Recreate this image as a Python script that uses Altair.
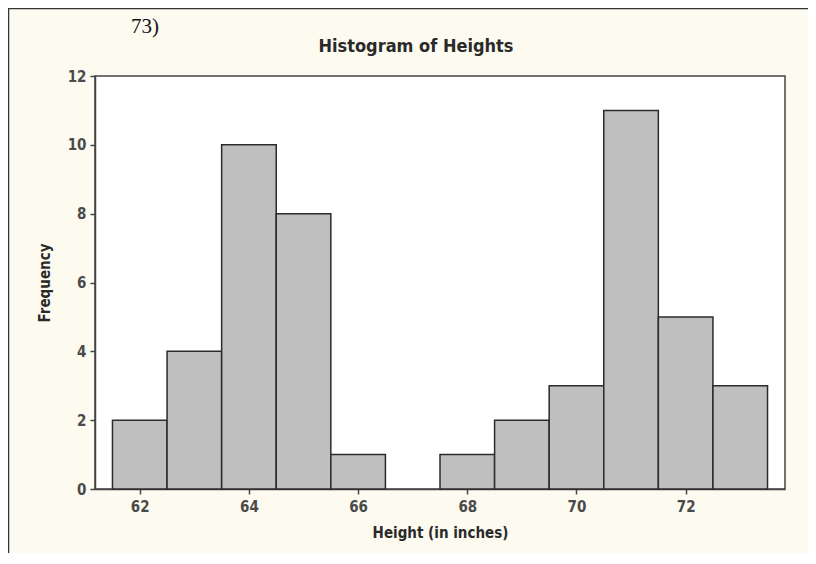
import altair as alt
import pandas as pd

centers = [62, 63, 64, 65, 66, 67, 68, 69, 70, 71, 72, 73]
counts = [2, 4, 10, 8, 1, 0, 1, 2, 3, 11, 5, 3]
x_ticks = [62, 64, 66, 68, 70, 72]
y_ticks = [0, 2, 4, 6, 8, 10, 12]
bin_width = 1.0
title_text = "Histogram of Heights"
corner_text = "73)"

df = pd.DataFrame({"center": centers, "count": counts})

W, H = 690, 413
PAD_L, PAD_T, PAD_R, PAD_B = 87, 68, 23, 64

xscale = alt.Scale(domain=[61.18, 73.82], nice=False, zero=False)
yscale = alt.Scale(domain=[0, 12], nice=False)

bars = alt.Chart(df).transform_filter(
    alt.datum["count"] > 0
).transform_calculate(
    x0=f"datum.center - {bin_width/2}",
    x1=f"datum.center + {bin_width/2}",
).mark_rect(fill="#BFBFBF", stroke="#2b2b2b", strokeWidth=1.5).encode(
    x=alt.X("x0:Q", scale=xscale, title="Height (in inches)",
            axis=alt.Axis(values=x_ticks, format="d", titleY=36, labelPadding=5)),
    x2="x1:Q",
    y=alt.Y("count:Q", scale=yscale, title="Frequency",
            axis=alt.Axis(values=y_ticks, format="d", titleX=-43, labelPadding=4)),
)

one = pd.DataFrame({"a": [0]})
frame_left = alt.Chart(one).mark_rule(color="#333", strokeWidth=1.5).encode(
    x=alt.value(-PAD_L + 0.5), y=alt.value(-PAD_T), y2=alt.value(H + PAD_B)
)
frame_top = alt.Chart(one).mark_rule(color="#333", strokeWidth=1.5).encode(
    x=alt.value(-PAD_L), x2=alt.value(W + PAD_R), y=alt.value(-PAD_T + 0.5)
)
label73 = alt.Chart(pd.DataFrame({"t": [corner_text]})).mark_text(
    font="Liberation Serif", fontSize=21, color="#111", align="center", baseline="middle"
).encode(text="t:N", x=alt.value(50), y=alt.value(-49))
title = alt.Chart(pd.DataFrame({"t": [title_text]})).mark_text(
    font="DejaVu Sans Condensed", fontSize=18, fontWeight="bold", color="#2a2a2a",
    align="center", baseline="middle"
).encode(text="t:N", x=alt.value(321), y=alt.value(-29))

chart = alt.layer(bars, frame_left, frame_top, label73, title).properties(
    width=W, height=H,
    autosize=alt.AutoSizeParams(type="none"),
    padding={"left": PAD_L, "top": PAD_T, "right": PAD_R, "bottom": PAD_B},
    background="#FDFBF0",
).configure_view(
    fill="white", stroke="#444", strokeWidth=1.5
).configure_axis(
    grid=False, domainColor="#444", domainWidth=1.5, tickColor="#444", tickSize=5,
    tickWidth=1.5, labelFont="DejaVu Sans Condensed", labelFontSize=15, labelColor="#4a4a4a",
    labelFontWeight="bold", titleFont="DejaVu Sans Condensed", titleFontSize=15,
    titleFontWeight="bold", titleColor="#2a2a2a"
)

chart.save("out.html", embed_options={"renderer": "svg", "actions": False})
